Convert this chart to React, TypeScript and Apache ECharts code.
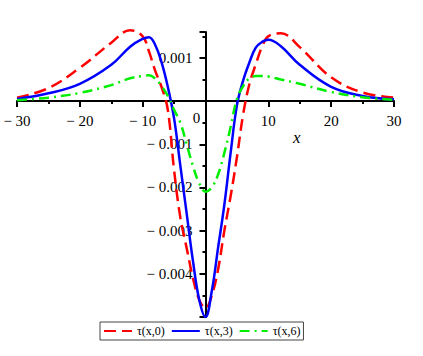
import React, { useEffect, useRef } from "react";
import * as echarts from "echarts";

const xs = [-30, -25, -20, -15, -12, -10, -9, -8, -7, -6, -5, -4, -3, -2, -1, 0, 1, 2, 3, 4, 5, 6, 7, 8, 9, 10, 12, 15, 20, 25, 30];
const tau0 = [0.00008, 0.0003, 0.00077, 0.00135, 0.00164, 0.0015, 0.00115, 0.0007, 0.00033, -0.0002, -0.0016, -0.0027, -0.0034, -0.0041, -0.0046, -0.0048, -0.0045, -0.0039, -0.003, -0.0022, -0.0013, -0.0003, 0.0004, 0.00085, 0.00126, 0.0015, 0.00157, 0.00125, 0.00055, 0.0002, 0.00008];
const tau3 = [0.00005, 0.00018, 0.0004, 0.00084, 0.00126, 0.00144, 0.00148, 0.0013, 0.0009, 0.00033, -0.0004, -0.0015, -0.0026, -0.0037, -0.0046, -0.005, -0.0044, -0.0034, -0.0024, -0.0012, -0.0001, 0.00048, 0.0009, 0.00124, 0.00137, 0.00142, 0.00127, 0.00084, 0.00033, 0.00012, 0.00004];
const tau6 = [0.00002, 0.00008, 0.00019, 0.00037, 0.00053, 0.00058, 0.0006, 0.00052, 0.00035, 0.00012, -0.0002, -0.0005, -0.001, -0.0015, -0.0019, -0.0021, -0.002, -0.0017, -0.0012, -0.0006, 0.00005, 0.00035, 0.00053, 0.00058, 0.00058, 0.00057, 0.0005, 0.0004, 0.00021, 0.00009, 0.00003];
const seriesNames = ["τ(x,0)", "τ(x,3)", "τ(x,6)"];
const xTickLabels = [-30, -20, -10, 10, 20, 30];
const yTickLabels = [-0.004, -0.003, -0.002, -0.001, 0.001];

const FONT = "Liberation Serif";
const minus = (v: number, digits: number) =>
  v < 0 ? "\u2212 " + Math.abs(v).toFixed(digits) : v.toFixed(digits);

export default function App() {
  const ref = useRef<HTMLDivElement>(null);
  useEffect(() => {
    if (!ref.current) return;
    const chart = echarts.init(ref.current, null, { renderer: "svg" });
    const pts = (ys: number[]) => xs.map((x, i) => [x, ys[i]]);
    const axisCommon = {
      axisLine: { onZero: true, lineStyle: { color: "#000", width: 2 } },
      axisTick: { length: 6, lineStyle: { color: "#000", width: 2 } },
      minorTick: { show: true, splitNumber: 2, length: 3, lineStyle: { color: "#000", width: 2 } },
      splitLine: { show: false },
      axisLabel: { show: false },
    };
    chart.setOption({
      animation: false,
      backgroundColor: "#fff",
      grid: { left: 17, right: 29, top: 32, height: 285, containLabel: false, outerBoundsMode: "none" },
      xAxis: { type: "value", min: -30, max: 30, interval: 10, ...axisCommon },
      yAxis: { type: "value", min: -0.005, max: 0.0016, interval: 0.001, ...axisCommon },
      legend: {
        left: 100,
        top: 322,
        itemWidth: 28,
        itemHeight: 10,
        itemGap: 6,
        borderColor: "#444",
        borderWidth: 1,
        padding: [3, 3],
        itemStyle: { opacity: 0 },
        textStyle: { fontFamily: FONT, fontSize: 12, color: "#000" },
        data: seriesNames,
      },
      series: [
        {
          name: seriesNames[0],
          type: "line",
          data: pts(tau0),
          smooth: 0.4,
          clip: false,
          symbol: "none",
          lineStyle: { color: "#ff0000", width: 2.5, type: [12, 6] },
          itemStyle: { color: "#ff0000" },
        },
        {
          name: seriesNames[1],
          type: "line",
          data: pts(tau3),
          smooth: 0.4,
          clip: false,
          symbol: "none",
          lineStyle: { color: "#0000ff", width: 2.5, type: "solid" },
          itemStyle: { color: "#0000ff" },
        },
        {
          name: seriesNames[2],
          type: "line",
          data: pts(tau6),
          smooth: 0.4,
          clip: false,
          symbol: "none",
          lineStyle: { color: "#00ee00", width: 2.5, type: [10, 5, 2, 5] },
          itemStyle: { color: "#00ee00" },
        },
      ],
    });

    const labelStyle = { fontFamily: FONT, fontSize: 15, fill: "#000" };
    const graphics: any[] = [];
    xTickLabels.forEach((v) => {
      const p = chart.convertToPixel({ gridIndex: 0 }, [v, 0]) as number[];
      graphics.push({
        type: "text",
        x: p[0],
        y: p[1] + 12,
        z: 0,
        style: { ...labelStyle, text: minus(v, 0), align: "center", verticalAlign: "top" },
      });
    });
    yTickLabels.forEach((v) => {
      const p = chart.convertToPixel({ gridIndex: 0 }, [0, v]) as number[];
      graphics.push({
        type: "text",
        x: p[0] - 13,
        y: p[1],
        z: 0,
        style: { ...labelStyle, text: minus(v, 3), align: "right", verticalAlign: "middle" },
      });
    });
    const o = chart.convertToPixel({ gridIndex: 0 }, [0, 0]) as number[];
    graphics.push({
      type: "text",
      x: o[0] - 9,
      y: o[1] + 17,
      z: 0,
      style: { ...labelStyle, text: "0", align: "center", verticalAlign: "middle" },
    });
    const xl = chart.convertToPixel({ gridIndex: 0 }, [15, 0]) as number[];
    graphics.push({
      type: "text",
      x: xl[0] - 3,
      y: xl[1] + 36,
      z: 0,
      style: { ...labelStyle, text: "x", fontStyle: "italic", fontSize: 17, align: "center", verticalAlign: "middle" },
    });
    chart.setOption({ graphic: graphics });
    return () => chart.dispose();
  }, []);
  return (
    <div
      ref={ref}
      style={{ position: "fixed", left: 0, top: 0, width: 423, height: 356 }}
    />
  );
}
